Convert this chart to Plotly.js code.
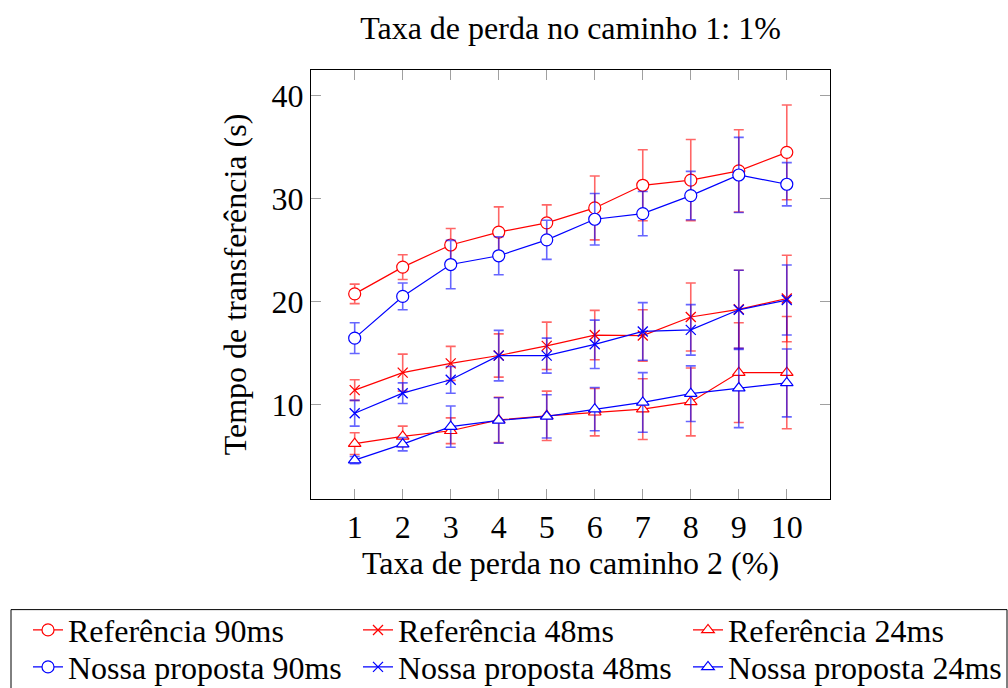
<!DOCTYPE html>
<html>
<head>
<meta charset="utf-8">
<script src="https://cdn.plot.ly/plotly-3.0.1.min.js"></script>
<style>html,body{margin:0;padding:0;background:#fff;}#chart{width:1008px;height:688px;}</style>
</head>
<body>
<div id="chart"></div>
<script>
const x = [1, 2, 3, 4, 5, 6, 7, 8, 9, 10];

const ref90 = [20.75, 23.35, 25.5, 26.75, 27.65, 29.1, 31.3, 31.8, 32.7, 34.5];
const ref90Err = [0.95, 1.2, 1.6, 2.45, 1.75, 3.1, 3.45, 3.95, 4.0, 4.6];
const ref48 = [11.4, 13.1, 14.0, 14.76, 15.7, 16.75, 16.7, 18.5, 19.25, 20.3];
const ref48Err = [1.0, 1.8, 1.65, 2.1, 2.3, 2.4, 2.5, 3.3, 3.8, 4.2];
const ref24 = [6.2, 6.9, 7.45, 8.5, 8.9, 9.25, 9.55, 10.25, 13.1, 13.1];
const ref24Err = [1.05, 1.0, 1.25, 2.2, 2.4, 2.3, 2.95, 3.3, 4.85, 5.45];

const nos90 = [16.45, 20.5, 23.6, 24.45, 26.0, 28.0, 28.55, 30.3, 32.3, 31.4];
const nos90Err = [1.5, 1.3, 2.35, 1.85, 1.9, 2.5, 2.15, 2.35, 3.65, 2.1];
const nos48 = [9.15, 11.1, 12.4, 14.75, 14.75, 15.85, 17.1, 17.25, 19.2, 20.15];
const nos48Err = [1.25, 1.0, 1.3, 2.45, 1.7, 2.35, 2.8, 2.45, 3.85, 3.4];
const nos24 = [4.6, 6.15, 7.85, 8.45, 8.85, 9.55, 10.2, 11.05, 11.6, 12.1];
const nos24Err = [0.35, 0.65, 2.0, 2.2, 2.1, 2.1, 2.9, 2.7, 3.85, 3.3];

const names = ["Referência 90ms", "Referência 48ms", "Referência 24ms",
               "Nossa proposta 90ms", "Nossa proposta 48ms", "Nossa proposta 24ms"];

const FONT = "Liberation Serif, Times New Roman, serif";
const FS = 32;
const RED = "rgb(255,0,0)", BLUE = "rgb(0,0,255)";
const RED_E = "rgba(255,0,0,0.6)", BLUE_E = "rgba(0,0,255,0.6)";

function tr(name, y, err, color, ecolor, symbol, size, legend) {
  return {
    type: "scatter", mode: "lines+markers", name: name, x: x, y: y, legend: legend,
    line: {color: color, width: 1.2},
    marker: {symbol: symbol, size: size, color: "white", line: {color: color, width: 1.2}},
    error_y: {type: "data", array: err, visible: true, color: ecolor, thickness: 1.6, width: 5},
    cliponaxis: false
  };
}
function trX(name, y, err, color, ecolor, legend) {
  const t = tr(name, y, err, color, ecolor, "x-thin-open", 10, legend);
  t.marker = {symbol: "x-thin-open", size: 10, color: color, line: {color: color, width: 1.3}};
  return t;
}

const data = [
  tr(names[0], ref90, ref90Err, RED, RED_E, "circle", 12, "legend"),
  trX(names[1], ref48, ref48Err, RED, RED_E, "legend2"),
  tr(names[2], ref24, ref24Err, RED, RED_E, "triangle-up", 11, "legend3"),
  tr(names[3], nos90, nos90Err, BLUE, BLUE_E, "circle", 12, "legend4"),
  trX(names[4], nos48, nos48Err, BLUE, BLUE_E, "legend5"),
  tr(names[5], nos24, nos24Err, BLUE, BLUE_E, "triangle-up", 11, "legend6")
];

// plot area in pixels: left 311, right 830, top 70, bottom 499.3
const PL = 311, PW = 519, PT = 70, PH = 429.3;
const px2x = p => (p - PL) / PW;
const px2y = p => (PT + PH - p) / PH;

function leg(leftPx, topPx) {
  return {
    orientation: "v", xref: "paper", yref: "paper",
    x: px2x(leftPx), xanchor: "left", y: px2y(topPx), yanchor: "top",
    bgcolor: "rgba(0,0,0,0)", borderwidth: 0,
    font: {family: FONT, size: FS, color: "black"},
    traceorder: "normal", itemsizing: "trace", tracegroupgap: 0
  };
}

const layout = {
  width: 1008, height: 688,
  paper_bgcolor: "white", plot_bgcolor: "white",
  font: {family: FONT, size: FS, color: "black"},
  margin: {l: 311, r: 178, t: 70, b: 189, autoexpand: false},
  title: {text: "Taxa de perda no caminho 1: 1%", x: 0.5, xref: "paper",
          y: 1 - 28 / 688, yref: "container", yanchor: "middle",
          font: {family: FONT, size: FS, color: "black"}},
  xaxis: {
    range: [0.09, 10.9], tickvals: x, ticktext: x.map(String),
    ticks: "inside", ticklen: 10, tickcolor: "#a0a0a0", tickwidth: 1,
    showline: true, linecolor: "black", linewidth: 1, mirror: "ticks",
    showgrid: false, zeroline: false,
    title: {text: "Taxa de perda no caminho 2 (%)", standoff: 2, font: {family: FONT, size: FS}}
  },
  yaxis: {
    range: [0.82, 42.5], tickvals: [10, 20, 30, 40],
    ticks: "inside", ticklen: 10, tickcolor: "#a0a0a0", tickwidth: 1,
    showline: true, linecolor: "black", linewidth: 1, mirror: "ticks",
    showgrid: false, zeroline: false,
    title: {text: "Tempo de transferência (s)", standoff: 15, font: {family: FONT, size: FS}}
  },
  showlegend: true,
  legend: leg(28, 603),
  legend2: leg(358, 603),
  legend3: leg(688, 603),
  legend4: leg(28, 640),
  legend5: leg(358, 640),
  legend6: leg(688, 640),
  shapes: [{
    type: "rect", xref: "paper", yref: "paper", layer: "above",
    x0: px2x(11), x1: px2x(1007), y0: px2y(610), y1: px2y(700),
    line: {color: "black", width: 1}, fillcolor: "rgba(0,0,0,0)"
  }]
};

Plotly.newPlot("chart", data, layout, {displayModeBar: false, staticPlot: true});
</script>
</body>
</html>
